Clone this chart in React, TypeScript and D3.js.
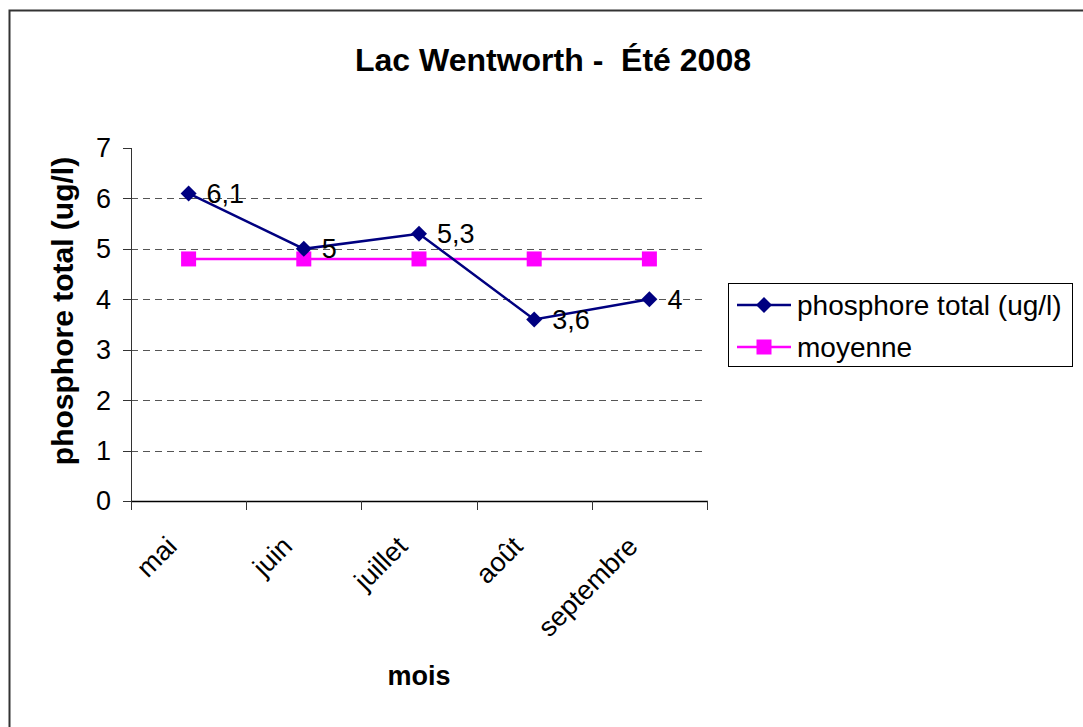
import React from "react";
import * as d3 from "d3";

const months = ["mai", "juin", "juillet", "août", "septembre"];
const phosphore = [6.1, 5, 5.3, 3.6, 4];
const moyenne = [4.8, 4.8, 4.8, 4.8, 4.8];
const yTicks = [0, 1, 2, 3, 4, 5, 6, 7];
const labelText = ["6,1", "5", "5,3", "3,6", "4"];

const W = 1083;
const H = 727;
const FONT = "'Liberation Sans', Arial, sans-serif";

export default function App() {
  const left = 131;
  const right = 707;
  const top = 148;
  const bottom = 501;

  const x = d3.scaleBand<string>().domain(months).range([left, right]).padding(0);
  const y = d3.scaleLinear().domain([0, 7]).range([bottom, top]);
  const cx = (m: string) => (x(m) ?? 0) + x.bandwidth() / 2;

  const line = d3
    .line<number>()
    .x((_, i) => cx(months[i]))
    .y((d) => y(d));

  // bord des catégories (ticks entre les mois)
  const xEdges = [...months.map((m) => x(m) ?? 0), right];

  const diamond = (px: number, py: number, r: number) =>
    `M${px},${py - r}L${px + r},${py}L${px},${py + r}L${px - r},${py}Z`;

  return (
    <svg
      width={W}
      height={H}
      style={{ position: "absolute", left: 0, top: 0, background: "#fff" }}
      fontFamily={FONT}
    >
      <rect x={0} y={0} width={W} height={H} fill="#fff" />
      {/* cadre */}
      <rect x={9.5} y={10.5} width={1090} height={730} fill="none" stroke="#333" strokeWidth={2} />

      <text
        x={553}
        y={71}
        textAnchor="middle"
        fontSize={32}
        fontWeight="bold"
        style={{ whiteSpace: "pre" }}
      >
        {"Lac Wentworth -  Été 2008"}
      </text>

      {/* grille */}
      {yTicks
        .filter((t) => t > 0 && t < 7)
        .map((t) => (
          <line
            key={"g" + t}
            x1={left}
            x2={right}
            y1={Math.round(y(t)) + 0.5}
            y2={Math.round(y(t)) + 0.5}
            stroke="#555"
            strokeWidth={1}
            strokeDasharray="7,5"
          />
        ))}

      {/* axe Y */}
      <line x1={left + 0.5} x2={left + 0.5} y1={top} y2={bottom} stroke="#333" strokeWidth={1} />
      {yTicks.map((t) => (
        <g key={"y" + t}>
          <line
            x1={left - 8}
            x2={left}
            y1={Math.round(y(t)) + 0.5}
            y2={Math.round(y(t)) + 0.5}
            stroke="#333"
          />
          <text x={111} y={y(t)} dy="0.35em" textAnchor="end" fontSize={27}>
            {t}
          </text>
        </g>
      ))}

      {/* axe X */}
      <line x1={left} x2={right + 1} y1={bottom + 0.5} y2={bottom + 0.5} stroke="#000" strokeWidth={1.5} />
      {xEdges.map((ex, i) => (
        <line
          key={"xt" + i}
          x1={Math.round(ex) + 0.5}
          x2={Math.round(ex) + 0.5}
          y1={bottom}
          y2={bottom + 9}
          stroke="#333"
        />
      ))}
      {months.map((m) => (
        <text
          key={"xl" + m}
          transform={`translate(${cx(m) - 10},${bottom + 47}) rotate(-45)`}
          textAnchor="end"
          fontSize={27}
        >
          {m}
        </text>
      ))}

      <text x={419} y={685} textAnchor="middle" fontSize={27} fontWeight="bold">
        mois
      </text>
      <text
        transform={`translate(73,311) rotate(-90)`}
        textAnchor="middle"
        fontSize={30}
        fontWeight="bold"
      >
        phosphore total (ug/l)
      </text>

      {/* moyenne */}
      <path d={line(moyenne) ?? ""} fill="none" stroke="#ff00ff" strokeWidth={2.5} />
      {moyenne.map((v, i) => (
        <rect
          key={"m" + i}
          x={cx(months[i]) - 7.5}
          y={y(v) - 7.5}
          width={15}
          height={15}
          fill="#ff00ff"
        />
      ))}

      {/* phosphore total */}
      <path d={line(phosphore) ?? ""} fill="none" stroke="#000080" strokeWidth={2.5} />
      {phosphore.map((v, i) => (
        <path key={"p" + i} d={diamond(cx(months[i]), y(v), 8)} fill="#000080" />
      ))}
      {phosphore.map((v, i) => (
        <text
          key={"pl" + i}
          x={cx(months[i]) + 18}
          y={y(v)}
          dy="0.35em"
          fontSize={27}
        >
          {labelText[i]}
        </text>
      ))}

      {/* légende */}
      <rect x={728.5} y={283.5} width={344} height={83} fill="#fff" stroke="#000" strokeWidth={1} />
      <line x1={737} x2={791} y1={305} y2={305} stroke="#000080" strokeWidth={2.5} />
      <path d={diamond(764, 305, 8)} fill="#000080" />
      <text x={797} y={305} dy="0.35em" fontSize={28}>
        phosphore total (ug/l)
      </text>
      <line x1={737} x2={791} y1={347} y2={347} stroke="#ff00ff" strokeWidth={2.5} />
      <rect x={756.5} y={339.5} width={15} height={15} fill="#ff00ff" />
      <text x={797} y={347} dy="0.35em" fontSize={28}>
        moyenne
      </text>
    </svg>
  );
}
